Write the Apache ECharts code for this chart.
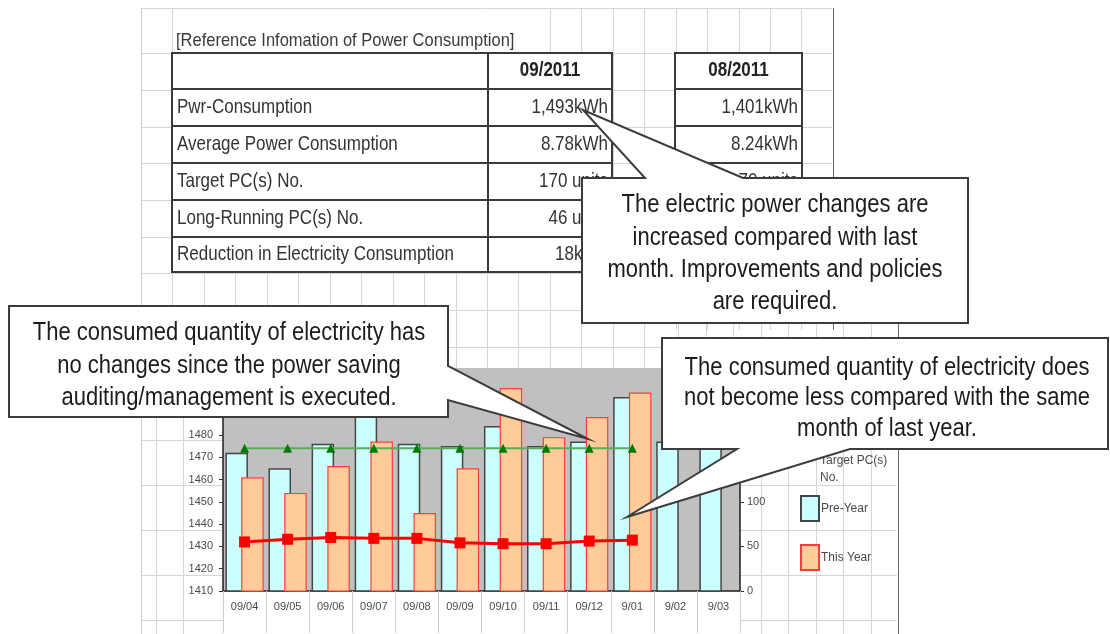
<!DOCTYPE html>
<html>
<head>
<meta charset="utf-8">
<script src="https://cdn.jsdelivr.net/npm/echarts@6/dist/echarts.min.js"></script>
<style>
  html, body { margin: 0; padding: 0; background: #ffffff; }
  #chart { width: 1110px; height: 634px; }
</style>
</head>
<body>
<div id="chart"></div>
<script>
// ---- chart data ----
const categories = ['09/04', '09/05', '09/06', '09/07', '09/08', '09/09', '09/10', '09/11', '09/12', '9/01', '9/02', '9/03'];
const preYear = [1472, 1465, 1476, 1492, 1476, 1475, 1484, 1475, 1477, 1497, 1477, 1482];
const thisYear = [1461, 1454, 1466, 1477, 1445, 1465, 1501, 1479, 1488, 1499, null, null];
const targetPCs = [160, 160, 160, 160, 160, 160, 160, 160, 160, 160, null, null];
const longRunningPCs = [55, 58, 60, 59, 59, 54, 53, 53, 56, 57, null, null];

// axis ranges
const kwhMin = 1410, kwhMax = 1510, kwhStep = 10;
const pcMin = 0, pcMax = 250, pcStep = 50;

// ---- reference table ----
const tableTitle = '[Reference Infomation of Power Consumption]';
const tableRowLabels = ['Pwr-Consumption', 'Average Power Consumption', 'Target PC(s) No.', 'Long-Running PC(s) No.', 'Reduction in Electricity Consumption'];
const tableMonths = ['09/2011', '08/2011'];
const thisMonthValues = ['1,493kWh', '8.78kWh', '170 units', '46 units', '18kWh'];
const lastMonthValues = ['1,401kWh', '8.24kWh', '170 units', '', ''];

// ---- notes ----
const noteRise = 'The electric power changes are\nincreased compared with last\nmonth. Improvements and policies\nare required.';
const noteFlat = 'The consumed quantity of electricity has\nno changes since the power saving\nauditing/management is executed.';
const noteYear = 'The consumed quantity of electricity does\nnot become less compared with the same\nmonth of last year.';

const FONT = '"Liberation Sans", Arial, sans-serif';
const g = [];

function hline(x1, x2, y, color, w, z) {
  g.push({ type: 'line', silent: true, z: z, shape: { x1: x1, y1: y, x2: x2, y2: y }, style: { stroke: color, lineWidth: w } });
}
function vline(x, y1, y2, color, w, z) {
  g.push({ type: 'line', silent: true, z: z, shape: { x1: x, y1: y1, x2: x, y2: y2 }, style: { stroke: color, lineWidth: w } });
}
function text(x, y, str, opts) {
  g.push({
    type: 'text', silent: true, z: opts.z || 1, x: x, y: y, scaleY: opts.sy || 1,
    style: {
      text: str, fill: opts.color || '#333', align: opts.align || 'left', verticalAlign: 'middle',
      font: (opts.bold ? 'bold ' : '') + opts.size + 'px ' + FONT, lineHeight: opts.lh || opts.size * 1.2
    }
  });
}

// ---- worksheet grid (upper sheet) ----
const GRID = '#d6d6d6';
for (let k = 0; k <= 22; k++) {
  const x = Math.round(141 + 31.45 * k) + 0.5;
  vline(x, 8, x < 662 ? 368 : 330, k === 22 ? '#6a6a6a' : GRID, 1, -10);
}
[8, 53, 89.5, 126.5, 163, 200, 237, 273, 310, 347].forEach(function (y) {
  hline(141, 832, Math.round(y) + 0.5, GRID, 1, -10);
});
// title overflow hides the cell lines behind it
g.push({ type: 'rect', silent: true, z: -9, shape: { x: 174, y: 9, width: 375, height: 43 }, style: { fill: '#fff' } });

// ---- worksheet grid (lower sheet) ----
for (let k = 0; k <= 27; k++) {
  const x = Math.round(155.5 + 27.5 * k) + 0.5;
  if (x < 200) vline(x, 368, 634, GRID, 1, -10);
  else if (x > 662) vline(x, 323, 634, k === 27 ? '#6a6a6a' : GRID, 1, -10);
}
[350, 395, 440, 485, 530, 575, 620].forEach(function (y) {
  hline(141, 223, y + 0.5, GRID, 1, -10);
  hline(662, 897, y + 0.5, GRID, 1, -10);
});
vline(141.5, 8, 634, '#cfcfcf', 1, -10);
g.push({ type: 'rect', silent: true, z: -8, shape: { x: 223, y: 592, width: 517, height: 42 }, style: { fill: '#fff' } });

// ---- reference table ----
const rowY = [53, 89, 126, 163, 200, 237, 272];
const TB = '#3a3a3a';
[[172, 612], [675, 802]].forEach(function (t) {
  g.push({ type: 'rect', silent: true, z: -2, shape: { x: t[0], y: 53, width: t[1] - t[0], height: 219 }, style: { fill: '#fff', stroke: TB, lineWidth: 2 } });
  rowY.slice(1, -1).forEach(function (y) { hline(t[0], t[1], y, TB, 2, -1); });
});
vline(488, 53, 272, TB, 2, -1);
text(176, 41, tableTitle, { size: 16.5, sy: 1.15, color: '#3a3a3a' });
text(550, 71, tableMonths[0], { size: 17, sy: 1.15, bold: true, align: 'center', color: '#222' });
text(738.5, 71, tableMonths[1], { size: 17, sy: 1.15, bold: true, align: 'center', color: '#222' });
tableRowLabels.forEach(function (lab, i) {
  const cy = (rowY[i + 1] + rowY[i + 2]) / 2;
  text(177, cy, lab, { size: 17, sy: 1.15, color: '#333' });
  text(608, cy, thisMonthValues[i], { size: 17, sy: 1.15, align: 'right', color: '#333' });
  if (lastMonthValues[i]) text(798, cy, lastMonthValues[i], { size: 17, sy: 1.15, align: 'right', color: '#333' });
});

// ---- legend caption for the target line ----
text(820, 469, 'Target PC(s)\nNo.', { size: 12, lh: 17, color: '#4a4a4a', z: 5 });

// ---- callout notes ----
function callout(points, cx, cy, str, lh) {
  g.push({ type: 'polygon', silent: true, z: 100, shape: { points: points }, style: { fill: '#fff', stroke: '#3c3c3c', lineWidth: 2 } });
  text(cx, cy, str, { size: 22, sy: 1.2, lh: lh, color: '#1c1c1c', align: 'center', z: 101 });
}
callout([[582, 178], [645, 178], [583, 110], [743, 178], [968, 178], [968, 323], [582, 323]], 775, 253.5, noteRise, 27);
callout([[9, 306], [448, 306], [448, 366], [588, 439], [448, 400], [448, 417], [9, 417]], 229, 365.5, noteFlat, 27);
callout([[662, 338], [1108, 338], [1108, 449], [850, 449], [627, 517], [737, 449], [662, 449]], 887, 398, noteYear, 25.4);

const axisText = { color: '#4a4a4a', fontSize: 11, fontFamily: FONT };
const plainNumber = function (v) { return String(v); };

const option = {
  animation: false,
  backgroundColor: 'transparent',
  grid: { left: 223, right: 370, top: 368, bottom: 43, show: true, backgroundColor: '#c0c0c0', borderWidth: 0 },
  legend: {
    data: ['Pre-Year', 'This Year'], orient: 'vertical', left: 800, top: 495, padding: 0,
    icon: 'rect', itemWidth: 18, itemHeight: 25, itemGap: 22,
    textStyle: { color: '#4a4a4a', fontSize: 12, fontFamily: FONT, padding: [0, 0, 0, -3] }
  },
  xAxis: {
    type: 'category', data: categories,
    axisLine: { lineStyle: { color: '#1e1e1e', width: 1.5 } },
    axisTick: { show: true, length: 42, lineStyle: { color: '#cfcfcf' } },
    axisLabel: Object.assign({ margin: 10, interval: 0 }, axisText)
  },
  yAxis: [
    {
      type: 'value', min: kwhMin, max: kwhMax, interval: kwhStep, position: 'left',
      axisLine: { show: true, lineStyle: { color: '#1e1e1e', width: 1.5 } },
      axisTick: { show: true, length: 4, lineStyle: { color: '#333' } },
      axisLabel: Object.assign({ margin: 10, formatter: plainNumber }, axisText),
      splitLine: { show: false }
    },
    {
      type: 'value', min: pcMin, max: pcMax, interval: pcStep, position: 'right',
      axisLine: { show: true, lineStyle: { color: '#1e1e1e', width: 1.5 } },
      axisTick: { show: true, length: 4, lineStyle: { color: '#333' } },
      axisLabel: Object.assign({ margin: 7, formatter: plainNumber }, axisText),
      splitLine: { show: false }
    }
  ],
  series: [
    {
      name: 'Pre-Year', type: 'bar', data: preYear, barWidth: 22.5, barGap: '-30%',
      itemStyle: { color: '#ccffff', borderColor: '#454545', borderWidth: 1.5 }
    },
    {
      name: 'This Year', type: 'bar', data: thisYear, barWidth: 22.5,
      itemStyle: { color: '#ffcc99', borderColor: '#ff3c3c', borderWidth: 1.2 }
    },
    {
      name: 'Target PC(s) No.', type: 'line', yAxisIndex: 1, data: targetPCs,
      symbol: 'triangle', symbolSize: 9, z: 3,
      lineStyle: { color: '#55b055', width: 2 },
      itemStyle: { color: '#007a00' }
    },
    {
      name: 'Long-Running PC(s) No.', type: 'line', yAxisIndex: 1, data: longRunningPCs,
      symbol: 'rect', symbolSize: 11, z: 4,
      lineStyle: { color: '#ff0000', width: 3 },
      itemStyle: { color: '#ff0000' }
    }
  ],
  graphic: { elements: g }
};

const chart = echarts.init(document.getElementById('chart'), null, { renderer: 'canvas' });
chart.setOption(option);
</script>
</body>
</html>
